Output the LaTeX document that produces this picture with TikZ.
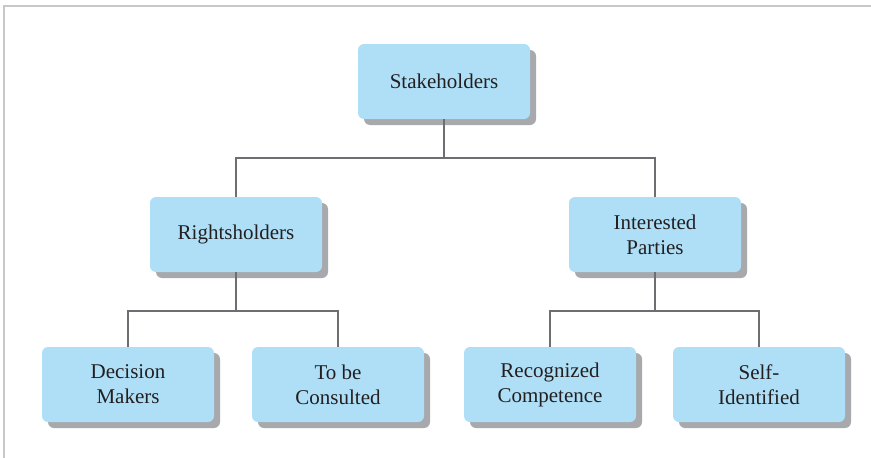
\documentclass[tikz,border=0pt]{standalone}
\usepackage{fontspec}
\setmainfont{Liberation Serif}
\usepackage{tikz}
\usetikzlibrary{shadows}

\definecolor{boxblue}{HTML}{AEDFF7}
\definecolor{shadowgray}{HTML}{A7A9AC}
\definecolor{linegray}{HTML}{6D6E71}
\definecolor{framegray}{HTML}{C7C8CA}
\definecolor{textdark}{HTML}{231F20}

\begin{document}
\begin{tikzpicture}[x=1pt, y=-1pt,
        box/.style={fill=boxblue, rounded corners=6pt, minimum width=172pt, minimum height=75pt,
            align=center, text=textdark, font=\fontsize{21}{25}\selectfont, inner sep=0pt,
            drop shadow={shadow xshift=6pt, shadow yshift=-6pt, fill=shadowgray, opacity=1}},
        link/.style={draw=linegray, line width=1.6pt}]
        \useasboundingbox (0,0) rectangle (871,458);
        \draw[framegray, line width=1.5pt] (4,458) -- (4,6) -- (871,6);

        \node[box] (stake) at (444,81.5) {Stakeholders};
        \node[box] (rights) at (236,234.5) {Rightsholders};
        \node[box] (inter) at (655,234.5) {Interested\\Parties};
        \node[box] (dec) at (128,384.5) {Decision\\Makers};
        \node[box] (cons) at (338,384.5) {To be\\Consulted};
        \node[box] (recog) at (550,384.5) {Recognized\\Competence};
        \node[box] (self) at (759,384.5) {Self-\\Identified};

        \coordinate (j1) at (444,158);
        \coordinate (j2) at (236,311);
        \coordinate (j3) at (655,311);

        \draw[link] (stake) -- (j1);
        \draw[link] (rights.north) |- (j1) -| (inter.north);
        \draw[link] (rights) -- (j2);
        \draw[link] (dec.north) |- (j2) -| (cons.north);
        \draw[link] (inter) -- (j3);
        \draw[link] (recog.north) |- (j3) -| (self.north);
    \end{tikzpicture}
\end{document}
